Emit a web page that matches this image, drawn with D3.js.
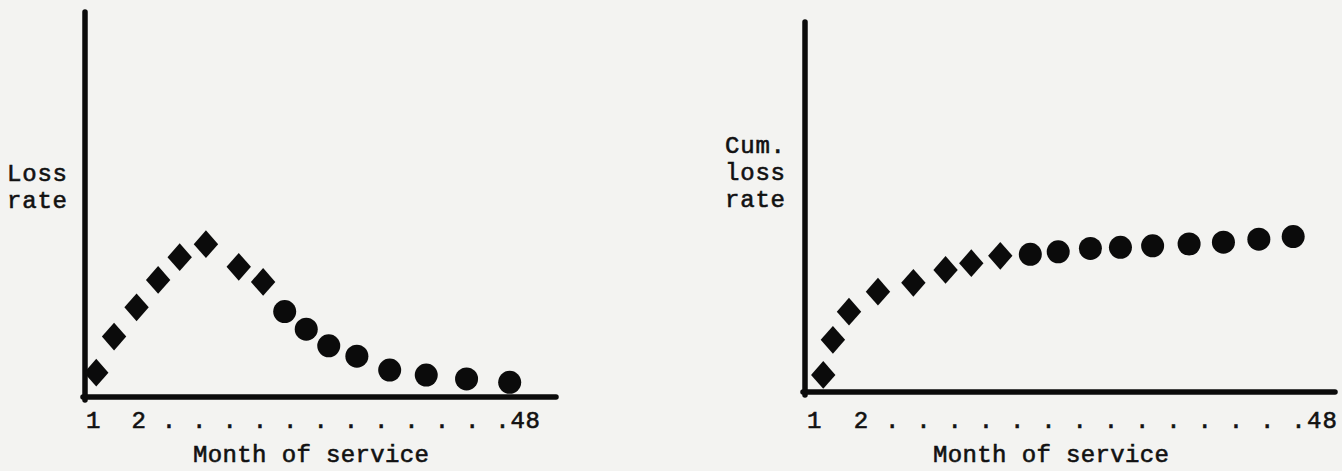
<!DOCTYPE html>
<html>
<head>
<meta charset="utf-8">
<script src="https://cdn.jsdelivr.net/npm/d3@7"></script>
<style>
  html, body { margin: 0; padding: 0; background: #f3f3f1; }
  svg { display: block; }
  text { font-family: "Liberation Mono", "DejaVu Sans Mono", monospace; fill: #111; stroke: #111; stroke-width: 0.6px; }
</style>
</head>
<body>
<svg id="chart" width="1342" height="471"></svg>
<script>
// ---- Data ----
// Left panel: loss rate by month of service
const lossMonths = [1.2, 3.1, 5.5, 7.8, 10.1, 12.9, 16.4, 19.0, 21.3, 23.6, 26.0, 29.0, 32.5, 36.4, 40.7, 45.3];
const lossValues = [0.63, 1.57, 2.33, 3.04, 3.63, 3.97, 3.38, 2.99, 2.22, 1.76, 1.33, 1.06, 0.70, 0.57, 0.47, 0.38];
const lossShapes = ["diamond","diamond","diamond","diamond","diamond","diamond","diamond","diamond",
                    "circle","circle","circle","circle","circle","circle","circle","circle"];

// Right panel: cumulative loss rate by month of service
const cumMonths = [1.7, 2.6, 4.1, 6.8, 10.1, 13.1, 15.5, 18.2, 21.0, 23.6, 26.6, 29.4, 32.4, 35.8, 39.0, 42.3, 45.5];
const cumValues = [0.46, 1.41, 2.17, 2.71, 2.95, 3.30, 3.48, 3.68, 3.72, 3.79, 3.88, 3.91, 3.95, 4.00, 4.05, 4.13, 4.20];
const cumShapes = ["diamond","diamond","diamond","diamond","diamond","diamond","diamond","diamond",
                   "circle","circle","circle","circle","circle","circle","circle","circle","circle"];

// Axis texts
const leftYLabel = ["Loss", "rate"];
const rightYLabel = ["Cum.", "loss", "rate"];
const leftTickLabel = "1  2" + " .".repeat(11) + " .48";
const rightTickLabel = "1  2" + " .".repeat(13) + " .48";
const xTitle = "Month of service";

// ---- Drawing ----
const svg = d3.select("#chart");
const ink = "#0b0b0b";

function panel(cfg) {
  const x = d3.scaleLinear().domain([0, 48]).range([cfg.x0, cfg.x48]);
  const y = d3.scaleLinear().domain([0, 10]).range([cfg.yBase, cfg.yTop]);
  const g = svg.append("g");

  // axes (heavy hand-drawn style lines)
  g.append("line")
    .attr("x1", x(0)).attr("x2", x(0))
    .attr("y1", y(10)).attr("y2", cfg.yBase + 3)
    .attr("stroke", ink).attr("stroke-width", 5.5).attr("stroke-linecap", "round");
  g.append("line")
    .attr("x1", x(0) - 2).attr("x2", cfg.axisEnd)
    .attr("y1", cfg.yBase).attr("y2", cfg.yBase)
    .attr("stroke", ink).attr("stroke-width", 5.5).attr("stroke-linecap", "round");

  // markers
  const pts = cfg.months.map((m, i) => ({ m, v: cfg.values[i], s: cfg.shapes[i] }));
  const diamond = d3.symbol(d3.symbolSquare, 330);
  g.selectAll("path.dia").data(pts.filter(d => d.s === "diamond")).join("path")
    .attr("class", "dia")
    .attr("d", diamond)
    .attr("fill", ink)
    .attr("transform", d => `translate(${x(d.m)},${y(d.v)}) scale(0.95,1.08) rotate(45)`);
  g.selectAll("circle.dot").data(pts.filter(d => d.s === "circle")).join("circle")
    .attr("class", "dot")
    .attr("cx", d => x(d.m)).attr("cy", d => y(d.v))
    .attr("r", 11.5).attr("fill", ink);

  // y label lines
  g.selectAll("text.ylab").data(cfg.yLabel).join("text")
    .attr("class", "ylab")
    .attr("x", cfg.yLabelX)
    .attr("y", (d, i) => cfg.yLabelY + i * 27)
    .attr("font-size", 24)
    .attr("textLength", 60).attr("lengthAdjust", "spacing")
    .text(d => d);

  // tick row
  g.append("text")
    .attr("x", cfg.tickX).attr("y", cfg.tickY)
    .attr("font-size", 24)
    .attr("textLength", cfg.tickLen).attr("lengthAdjust", "spacing")
    .style("white-space", "pre")
    .attr("xml:space", "preserve")
    .text(cfg.tickLabel);

  // x title
  g.append("text")
    .attr("x", cfg.titleX).attr("y", cfg.titleY)
    .attr("font-size", 24)
    .attr("text-anchor", "middle")
    .attr("textLength", 236).attr("lengthAdjust", "spacing")
    .text(xTitle);
}

panel({
  months: lossMonths, values: lossValues, shapes: lossShapes,
  x0: 85, x48: 535, yBase: 397, yTop: 12, axisEnd: 556,
  yLabel: leftYLabel, yLabelX: 7, yLabelY: 181,
  tickLabel: leftTickLabel, tickX: 86, tickY: 428, tickLen: 454,
  titleX: 311, titleY: 462
});

panel({
  months: cumMonths, values: cumValues, shapes: cumShapes,
  x0: 805, x48: 1320, yBase: 392, yTop: 22, axisEnd: 1335,
  yLabel: rightYLabel, yLabelX: 725, yLabelY: 153,
  tickLabel: rightTickLabel, tickX: 807, tickY: 428, tickLen: 530,
  titleX: 1051, titleY: 462
});
</script>
</body>
</html>
